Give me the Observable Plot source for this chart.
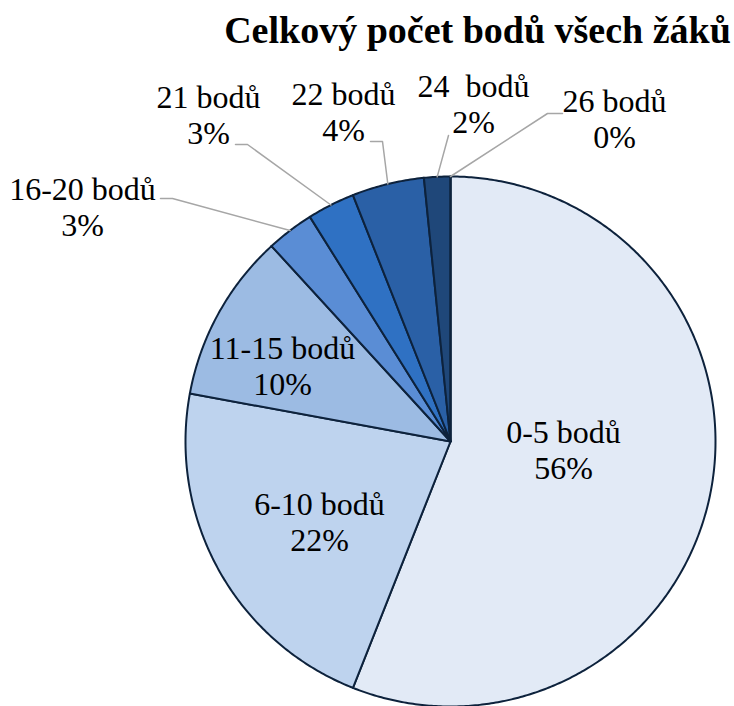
<!DOCTYPE html>
<html><head><meta charset="utf-8">
<script src="https://cdn.jsdelivr.net/npm/d3@7"></script>
<script src="https://cdn.jsdelivr.net/npm/@observablehq/plot@0.6"></script>
<style>body{margin:0;background:#fff} svg text{font-family:"Liberation Serif","Times New Roman",serif !important;}</style>
</head><body><div id="chart"></div>
<script>
// ---- data ----
const title = "Celkový počet bodů všech žáků";
const categories = ["0-5 bodů","6-10 bodů","11-15 bodů","16-20 bodů","21 bodů","22 bodů","24  bodů","26 bodů"];
const values = [56.0, 21.9, 10.3, 2.9, 2.9, 4.4, 1.6, 0];
const percentLabels = ["56%","22%","10%","3%","3%","4%","2%","0%"];
const colors = ["#E2EAF6","#BED3EE","#9CBBE3","#5A8DD5","#2F71C3","#2A60A6","#1F4779","#17355B"];

// ---- layout (pixels) ----
const W = 734, H = 706, CX = 450, CY = 441, R = 265;
const labelPx = [[563,449],[319,521],[282,365],[82,206],[208,114],[343,111],[473,103],[614,118]];
const leaderPx = {3: [[160,198],[172,198]], 4: [[235,144],[247,144]], 5: [[370,141],[382,141]], 6: [[448,135]], 7: [[562,113],[547,113]]};
const toX = px => (px - CX) / R, toY = py => (CY - py) / R;
const FONT = "Liberation Serif";

// ---- slices ----
const arcs = d3.pie().sort(null).value(d => d)(values);
const slicePts = [];
arcs.forEach((a, i) => {
  slicePts.push({k: i, x: 0, y: 0});
  const n = Math.max(2, Math.ceil((a.endAngle - a.startAngle) / (Math.PI / 360)));
  for (let j = 0; j <= n; j++) {
    const t = a.startAngle + (a.endAngle - a.startAngle) * j / n;
    slicePts.push({k: i, x: Math.sin(t), y: Math.cos(t)});
  }
  slicePts.push({k: i, x: 0, y: 0});
});

// ---- leaders ----
const leaderPts = [];
Object.entries(leaderPx).forEach(([i, pts]) => {
  i = +i;
  pts.forEach(p => leaderPts.push({k: i, x: toX(p[0]), y: toY(p[1])}));
  const mid = (arcs[i].startAngle + arcs[i].endAngle) / 2;
  leaderPts.push({k: i, x: Math.sin(mid), y: Math.cos(mid)});
});

const labels = categories.map((c, i) => ({
  text: c.replace(/  /g, " \u00a0") + "\n" + percentLabels[i],
  x: toX(labelPx[i][0]), y: toY(labelPx[i][1])
}));

const chart = Plot.plot({
  width: W, height: H, margin: 0,
  x: {domain: [-CX / R, (W - CX) / R], axis: null},
  y: {domain: [-(H - CY) / R, CY / R], axis: null},
  color: {domain: d3.range(categories.length), range: colors},
  style: {background: "#fff"},
  marks: [
    Plot.line(slicePts, {x: "x", y: "y", z: "k", fill: "k", stroke: "#0D223C", strokeWidth: 2, strokeLinejoin: "round", curve: "linear"}),
    Plot.line(leaderPts, {x: "x", y: "y", z: "k", stroke: "#A6A6A6", strokeWidth: 1.5, curve: "linear"}),
    Plot.text(labels, {x: "x", y: "y", text: "text", fontSize: 32, fontFamily: FONT, lineHeight: 1.13, fill: "#000", textAnchor: "middle"}),
    Plot.text([title], {frameAnchor: "top", dx: 110, dy: 16, fontSize: 38, fontFamily: FONT, fontWeight: "bold", fill: "#000"})
  ]
});
document.getElementById("chart").appendChild(chart);
</script>
</body></html>
